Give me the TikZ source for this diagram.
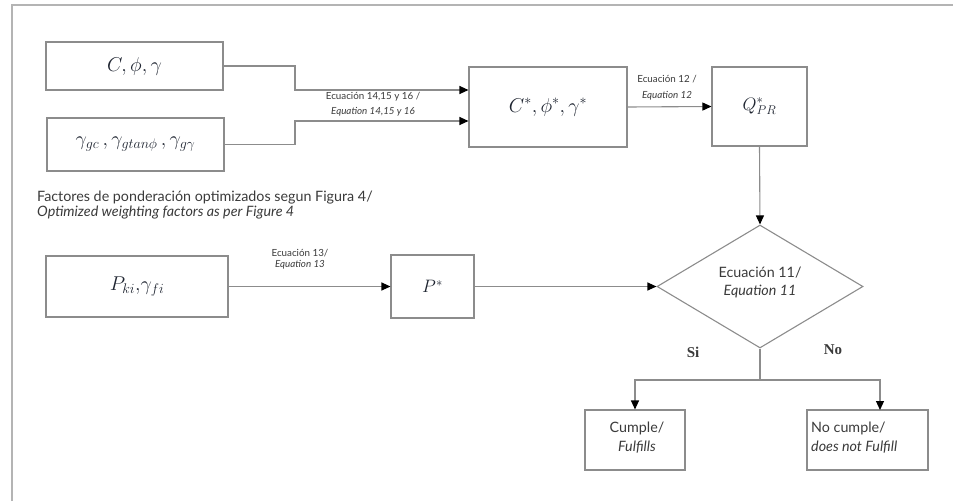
\RequirePackage{fix-cm}
\documentclass[tikz,border=0pt]{standalone}
\usepackage{fontspec}
\setmainfont{Lato}
\newfontfamily\serifb{Liberation Serif}
\usetikzlibrary{shapes.geometric,arrows.meta}
\definecolor{lineg}{HTML}{8C8C8C}
\definecolor{frameg}{HTML}{B4B4B4}
\definecolor{txt}{HTML}{3A3A3A}
\definecolor{mathc}{HTML}{1E2430}
\tikzset{
  x=1pt,y=-1pt,
  box/.style={draw=lineg,line width=1.1pt,rectangle,inner sep=0pt,text=mathc},
  arr/.style={draw=lineg,line width=1.1pt,-{Triangle[length=9pt,width=8pt,color=black]}},
  ln/.style={draw=lineg,line width=1.1pt},
  small/.style={font=\fontsize{9.8}{11}\selectfont,text=txt,inner sep=0pt},
  mid/.style={font=\fontsize{14.3}{16}\selectfont,text=txt,inner sep=0pt},
  mth/.style={font=\fontsize{20}{23}\selectfont},
  mths/.style={font=\fontsize{18}{21}\selectfont},
  sib/.style={font=\serifb\bfseries\fontsize{15}{17}\selectfont,text=txt,inner sep=0pt},
}
\begin{document}
\begin{tikzpicture}
\useasboundingbox (0,0) rectangle (953,501);
\draw[frameg,line width=1.6pt] (12,501) -- (12,5) -- (953,5);
% boxes
\node[box,mth,minimum width=177pt,minimum height=48pt] (A) at (134.5,66) {$C, \phi, \gamma$};
\node[box,mth,minimum width=177pt,minimum height=53pt] (B) at (135.5,144.5) {$\gamma_{gc}\,, \gamma_{gtan\phi}\,, \gamma_{g\gamma}$};
\node[box,mth,minimum width=158pt,minimum height=80pt] (C) at (548,107) {$C^{*},\phi^{*},\gamma^{*}$};
\node[box,mths,minimum width=95pt,minimum height=79pt] (D) at (759.5,106.5) {$Q^{*}_{PR}$};
\node[box,mth,minimum width=182pt,minimum height=61pt] (E) at (137,286.5) {$P_{ki}{,}\gamma_{fi}$};
\node[box,mths,minimum width=83pt,minimum height=63pt] (F) at (432.5,286.5) {$P^{*}$};
\node[draw=lineg,line width=1.1pt,diamond,aspect=1.67,minimum width=206pt,minimum height=123pt,inner sep=0pt] (G) at (760,286.5) {};
\node[box,minimum width=100pt,minimum height=60pt] (H) at (635,440) {};
\node[box,minimum width=121pt,minimum height=60pt] (I) at (867.5,440) {};
% texts
\node[mid] (g1) at (760,273) {Ecuación 11/};
\node[mid] (g2) at (760,292) {\itshape Equation 11};
\node[mid] (h1) at (637,428) {Cumple/};
\node[mid] (h2) at (637,447) {\itshape Fulfills};
\node[mid,anchor=west] (i1) at (811,428) {No cumple/};
\node[mid,anchor=west] (i2) at (811,447) {\itshape does not Fulfill};
\node[sib] (si) at (693,352) {Si};
\node[sib] (no) at (833,350) {No};
\node[small] (l1) at (373,97) {Ecuación 14,15 y 16 /};
\node[small] (l2) at (373,112) {\itshape Equation 14,15 y 16};
\node[small] (l3) at (667,79) {Ecuación 12 /};
\node[small] (l4) at (667,96) {\itshape Equation 12};
\node[small] (l5) at (300,253) {Ecuación 13/};
\node[small] (l6) at (300,265) {\itshape Equation 13};
\node[mid,anchor=west] (f1) at (37,198) {Factores de ponderación optimizados segun Figura 4/};
\node[mid,anchor=west,font=\fontsize{14.3}{16}\selectfont\itshape] (f2) at (37,213) {Optimized weighting factors as per Figure 4};
% connectors
\coordinate (jA) at (295,90);
\coordinate (jB) at (295,121);
\coordinate (sp) at (760,380);
\coordinate (iN) at (880,410);
\draw[arr] (A.east) -| (jA) -- (jA -| C.west);
\draw[arr] (B.east) -| (jB) -- (jB -| C.west);
\draw[arr] (C.east) -- (D.west);
\draw[arr] (D.south) -- (G.north);
\draw[arr] (E.east) -- (F.west);
\draw[arr] (F.east) -- (G.west);
\draw[ln] (G.south) -- (sp);
\draw[arr] (sp) -| (H.north);
\draw[arr] (sp) -| (iN);
\end{tikzpicture}
\end{document}
